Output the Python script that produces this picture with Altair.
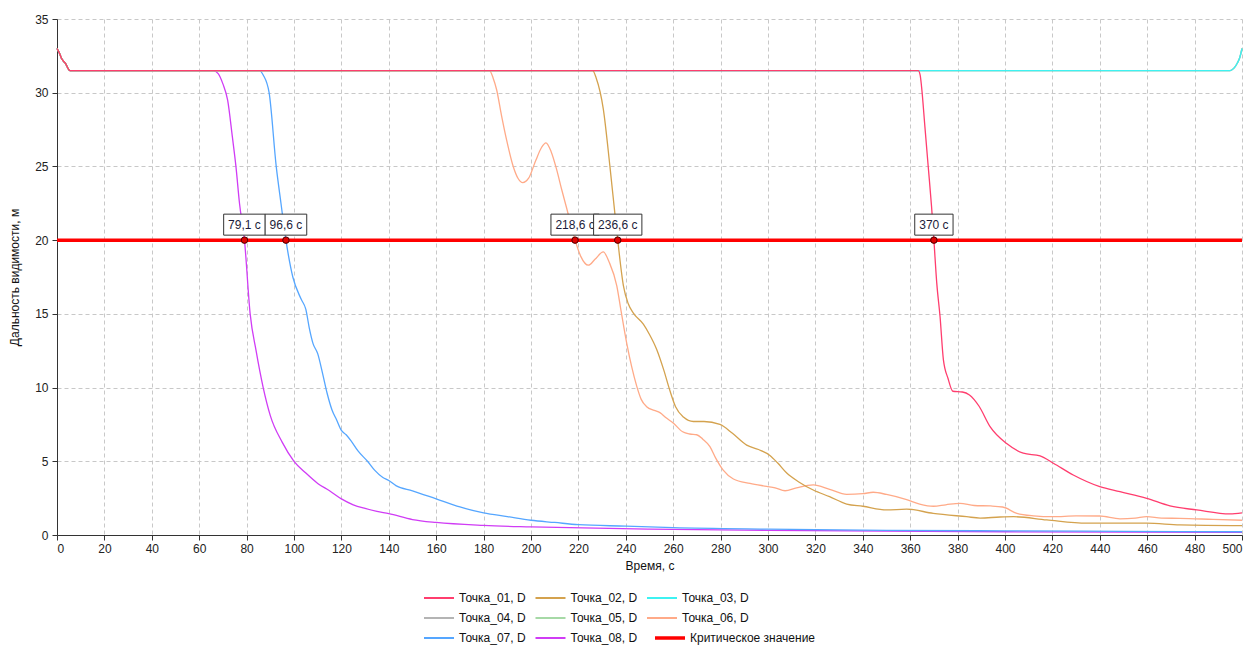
import altair as alt
import pandas as pd

# ---------------- data ----------------
series_names = ["Точка_01, D", "Точка_02, D", "Точка_03, D", "Точка_04, D",
                "Точка_05, D", "Точка_06, D", "Точка_07, D", "Точка_08, D"]
crit_name = "Критическое значение"
colors = ["#FF3D6E", "#D4A24E", "#3DF2F2", "#B4B4B4",
          "#A6D9A6", "#FFAA88", "#55A6FF", "#D03CF5"]
crit_color = "#FF0000"

start_t = [0, 1, 2, 3.5, 5.5]
start_d = [33.0, 32.7, 32.3, 32.0, 31.5]

t01 = start_t + [363.4, 364.2, 364.8, 366.2, 367.6, 369, 370, 371.2, 372.6, 374, 376, 378,
                 382, 385, 389, 393.7, 400.7, 407.7, 414.8, 420.4, 428.8, 440, 448.5,
                 459.8, 469.6, 480.9, 494.9, 500]
d01 = start_d + [31.5, 31.2, 30.4, 27.7, 25.0, 22.3, 20.0, 17.1, 14.8, 11.9, 10.6, 9.75,
                 9.7, 9.5, 8.75, 7.35, 6.2, 5.55, 5.36, 4.87, 4.07, 3.28, 2.94,
                 2.49, 1.97, 1.7, 1.43, 1.5]

t02 = start_t + [226, 227.5, 230.5, 233.3, 235.4, 236.6, 239, 241, 243.2, 247.4, 250, 253,
                 256, 258.6, 261, 264.3, 268.5, 273, 279.7, 285, 291, 296, 300.8, 304,
                 307.9, 313, 319.1, 326, 333.2, 340, 350, 358.5, 369.7, 383.8, 389.5,
                 397.9, 403.6, 417.6, 434.5, 459.8, 473.8, 500]
d02 = start_d + [31.5, 31.0, 28.9, 25.0, 21.8, 20.0, 16.9, 15.7, 15.05, 14.3, 13.6, 12.6,
                 11.2, 9.8, 8.7, 8.0, 7.7, 7.7, 7.5, 6.9, 6.1, 5.8, 5.4, 4.9,
                 4.2, 3.6, 3.05, 2.6, 2.1, 1.95, 1.7, 1.75, 1.47, 1.24, 1.15,
                 1.22, 1.24, 1.02, 0.8, 0.8, 0.68, 0.63]

t03 = start_t + [495, 496.5, 498, 499, 500]
d03 = start_d + [31.5, 31.65, 32.0, 32.35, 33.0]
t04 = list(t03)
d04 = list(d03)
t05 = list(t03)
d05 = list(d03)

t06 = start_t + [182.5, 184, 185.5, 187.5, 189.7, 192.5, 194.5, 196.5, 199, 202, 204.5,
                 206.3, 208.5, 210.8, 213, 215, 218.6, 221, 224.2, 227, 230.5, 233,
                 236.2, 238, 240.4, 242.5, 244.6, 246.5, 248.8, 252, 254.4, 257, 260,
                 264, 267, 269.9, 272.5, 275.5, 278, 281.1, 285.4, 292.4, 299.4, 303,
                 307.2, 312, 319.1, 326, 333.2, 340, 344.4, 350, 358.5, 364, 369.8,
                 375, 381, 387, 394, 399, 405, 412, 420.3, 430, 440, 448.5, 455, 459.8,
                 466, 473.8, 487.8, 500]
d06 = start_d + [31.5, 31.0, 30.2, 28.5, 26.8, 25.0, 24.2, 23.9, 24.2, 25.4, 26.3,
                 26.6, 26.0, 24.8, 23.4, 22.2, 20.0, 18.9, 18.3, 18.7, 19.2, 18.5,
                 16.9, 15.2, 13.0, 11.4, 10.1, 9.2, 8.7, 8.45, 8.3, 7.95, 7.6,
                 7.0, 6.85, 6.8, 6.5, 6.0, 5.2, 4.4, 3.8, 3.5, 3.3, 3.2,
                 3.0, 3.2, 3.4, 3.1, 2.76, 2.8, 2.9, 2.75, 2.4, 2.1, 1.95,
                 2.05, 2.15, 2.0, 1.97, 1.9, 1.47, 1.3, 1.24, 1.3, 1.29, 1.1, 1.15, 1.24,
                 1.15, 1.13, 1.06, 1.0]

t07 = start_t + [85.5, 87, 89.5, 92.5, 94.5, 96.6, 99.5, 103, 105, 106.5, 108, 110, 112,
                 114, 116, 118, 120, 122, 124, 127, 131, 134, 137.5, 140, 143, 150, 160,
                 170, 180, 190, 200, 210, 220, 240, 260, 300, 350, 400, 450, 500]
d07 = start_d + [31.5, 31.2, 30.0, 25.0, 22.5, 20.0, 17.5, 16.0, 15.3, 14.0, 13.0, 12.3, 11.0,
                 9.6, 8.5, 7.8, 7.1, 6.8, 6.4, 5.7, 5.0, 4.4, 3.9, 3.7, 3.35, 3.0, 2.45,
                 1.9, 1.5, 1.25, 1.0, 0.85, 0.7, 0.6, 0.5, 0.4, 0.32, 0.28, 0.25, 0.22]

t08 = start_t + [66, 68, 70, 72, 74, 75.5, 77, 79.1, 81.5, 84, 87, 90, 95, 100, 105, 110,
                 115, 120, 125, 130, 135, 140, 150, 160, 180, 200, 250, 300, 400, 500]
d08 = start_d + [31.5, 31.3, 30.6, 29.5, 27.0, 25.0, 22.5, 20.0, 15.0, 12.5, 10.0, 8.1, 6.3,
                 5.0, 4.2, 3.5, 3.0, 2.45, 2.05, 1.8, 1.6, 1.45, 1.05, 0.85, 0.65, 0.55,
                 0.4, 0.32, 0.22, 0.18]

crit_t = [0, 500]
crit_d = [20, 20]

cross_t = [79.1, 96.6, 218.6, 236.6, 370]
cross_labels = ["79,1 с", "96,6 с", "218,6 с", "236,6 с", "370 с"]

x_ticks = list(range(0, 501, 20))
y_ticks = list(range(0, 36, 5))

# ---------------- build ----------------
all_t = [t01, t02, t03, t04, t05, t06, t07, t08]
all_d = [d01, d02, d03, d04, d05, d06, d07, d08]

color_scale = alt.Scale(domain=series_names, range=colors)
FONT = "Liberation Sans"

LEG_X = 366
LEG_Y = 569
ROW = 20

legend = alt.Legend(
    title=None, orient="none", legendX=LEG_X, legendY=LEG_Y, columns=3,
    direction="horizontal", symbolType="stroke", symbolSize=900,
    symbolStrokeWidth=2, labelFont=FONT, labelFontSize=12,
    labelColor="#111", padding=0, rowPadding=0, columnPadding=8.5, labelOffset=4,
    gridAlign="each", labelLimit=300, clipHeight=ROW,
)
crit_legend = alt.Legend(
    title=None, orient="none", legendX=LEG_X + 230, legendY=LEG_Y + 2 * ROW,
    symbolType="stroke", symbolSize=900, symbolStrokeWidth=3.5,
    symbolStrokeColor=crit_color, labelFont=FONT, labelFontSize=12,
    labelColor="#111", padding=0, labelOffset=3, labelLimit=300, clipHeight=ROW,
)

x_enc = alt.X("t:Q", scale=alt.Scale(domain=[0, 500], nice=False),
              axis=alt.Axis(values=x_ticks, title="Время, с"))
y_enc = alt.Y("d:Q", scale=alt.Scale(domain=[0, 35], nice=False),
              axis=alt.Axis(values=y_ticks, title="Дальность видимости, м"))

layers = []
for i in reversed(range(8)):
    df = pd.DataFrame({"t": all_t[i], "d": all_d[i], "series": series_names[i]})
    layers.append(
        alt.Chart(df).mark_line(interpolate="monotone", strokeWidth=1.3).encode(
            x=x_enc, y=y_enc,
            color=alt.Color("series:N", scale=color_scale, legend=legend),
        )
    )

crit_df = pd.DataFrame({"t": crit_t, "d": crit_d, "series": crit_name})
layers.append(
    alt.Chart(crit_df).mark_line(color=crit_color, strokeWidth=3.5).encode(
        x=x_enc, y=y_enc,
        strokeDash=alt.StrokeDash("series:N",
                                  scale=alt.Scale(domain=[crit_name], range=[[10, 0]]),
                                  legend=crit_legend),
    )
)

cross_df = pd.DataFrame({"t": cross_t, "d": [20] * len(cross_t), "label": cross_labels})
layers.append(
    alt.Chart(cross_df).mark_point(filled=True, fill="#E00000", stroke="#4a0000",
                                   strokeWidth=1, size=42, opacity=1).encode(x="t:Q", y="d:Q")
)

for lab in cross_labels:
    w = 0
    for ch in lab:
        w += 3.3 if ch in ", " else (6.0 if ch == "с" else 6.67)
    half = (w + 9) / 2
    sub = cross_df[cross_df["label"] == lab]
    layers.append(
        alt.Chart(sub).mark_rect(fill="white", stroke="#333", strokeWidth=1,
                                 xOffset=-half, x2Offset=half, yOffset=-26, y2Offset=-5).encode(
            x="t:Q", x2="t:Q", y="d:Q", y2="d:Q")
    )
    layers.append(
        alt.Chart(sub).mark_text(font=FONT, fontSize=12, color="#1c1c3a", dy=-15,
                                 align="center", baseline="middle").encode(
            x="t:Q", y="d:Q", text="label:N")
    )

chart = alt.layer(*layers).properties(
    width=1185, height=516,
    autosize=alt.AutoSizeParams(type="none"),
    padding={"left": 49, "top": 11, "right": 2, "bottom": 110},
).configure_view(stroke=None).configure_axis(
    labelFont=FONT, titleFont=FONT, labelFontSize=12, titleFontSize=12,
    titleFontWeight="normal", labelColor="#222", titleColor="#111",
    domainColor="#333", tickColor="#333", tickSize=5,
    gridColor="#c8c8c8", gridDash=[4, 3], gridWidth=1,
).configure_axisX(labelPadding=3, titlePadding=6).configure_axisY(
    labelPadding=4, titlePadding=13)

chart.save("out.html", embed_options={"renderer": "svg", "actions": False})
